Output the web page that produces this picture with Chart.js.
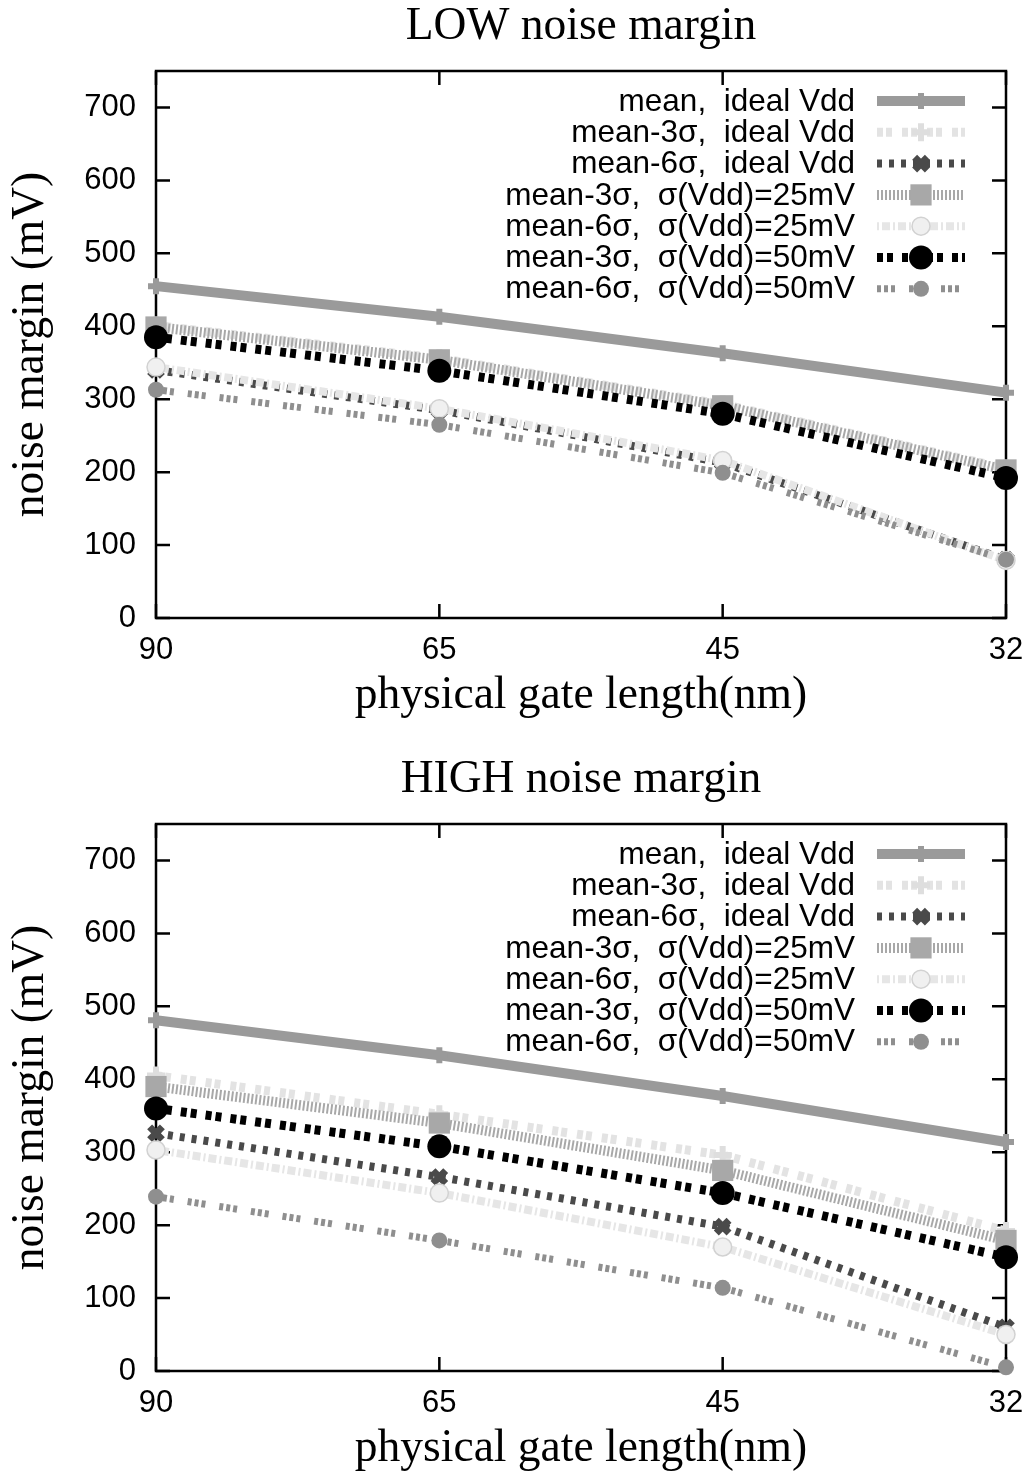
<!DOCTYPE html>
<html><head><meta charset="utf-8">
<script src="https://cdn.jsdelivr.net/npm/chart.js@4/dist/chart.umd.min.js"></script>
<style>
html,body{margin:0;padding:0;background:#fff;}
.wrap{position:relative;width:1025px;height:738px;}
canvas{display:block;}
</style></head><body>
<div class="wrap"><canvas id="c1" width="1025" height="738"></canvas></div>
<div class="wrap"><canvas id="c2" width="1025" height="738"></canvas></div>
<script>
// ---- data ----
const categories = ['90', '65', '45', '32'];
const seriesLabels = [
  'mean,  ideal Vdd',
  'mean-3σ,  ideal Vdd',
  'mean-6σ,  ideal Vdd',
  'mean-3σ,  σ(Vdd)=25mV',
  'mean-6σ,  σ(Vdd)=25mV',
  'mean-3σ,  σ(Vdd)=50mV',
  'mean-6σ,  σ(Vdd)=50mV'
];
const yTickValues = [0, 100, 200, 300, 400, 500, 600, 700];

// LOW noise margin (mV)
const lowMeanIdeal = [455, 413, 363, 309];
const low3sIdeal   = [401, 356, 293, 205];
const low6sIdeal   = [340, 285, 213, 80];
const low3s25      = [399, 354, 291, 203];
const low6s25      = [344, 287, 216, 79];
const low3s50      = [385, 339, 280, 192];
const low6s50      = [313, 265, 199, 80];

// HIGH noise margin (mV)
const highMeanIdeal = [481, 433, 377, 314];
const high3sIdeal   = [405, 352, 296, 192];
const high6sIdeal   = [326, 266, 198, 60];
const high3s25      = [390, 340, 275, 179];
const high6s25      = [303, 244, 170, 50];
const high3s50      = [360, 308, 244, 156];
const high6s50      = [239, 179, 114, 5];

// ---- styles ----
const styles = [
  {borderColor:'#9a9a9a', borderWidth:10, borderDash:[], pointStyle:'cross', pointRadius:8, pointBorderWidth:6, pointBackgroundColor:'#9a9a9a', pointBorderColor:'#9a9a9a'},
  {borderColor:'#e3e3e3', borderWidth:9, borderDash:[6,3,6,10], pointStyle:'cross', pointRadius:9, pointBorderWidth:6, pointBackgroundColor:'#dedede', pointBorderColor:'#dedede'},
  {borderColor:'#4a4a4a', borderWidth:8, borderDash:[5,7], pointStyle:'crossRot', pointRadius:9, pointBorderWidth:7, pointBackgroundColor:'#4a4a4a', pointBorderColor:'#4a4a4a'},
  {borderColor:'#a8a8a8', borderWidth:10, borderDash:[2,2], pointStyle:'rect', pointRadius:15, pointBorderWidth:0, pointBackgroundColor:'#a8a8a8', pointBorderColor:'#a8a8a8'},
  {borderColor:'#e6e6e6', borderWidth:8, borderDash:[2,3,8,3], pointStyle:'circle', pointRadius:9, pointBorderWidth:1.5, pointBackgroundColor:'#f0f0f0', pointBorderColor:'#d2d2d2'},
  {borderColor:'#000000', borderWidth:9, borderDash:[6,4,6,9], pointStyle:'circle', pointRadius:12, pointBorderWidth:0, pointBackgroundColor:'#000000', pointBorderColor:'#000000'},
  {borderColor:'#8f8f8f', borderWidth:7, borderDash:[4,3,4,3,4,14], pointStyle:'circle', pointRadius:8, pointBorderWidth:0, pointBackgroundColor:'#8f8f8f', pointBorderColor:'#8f8f8f'}
];

const SANS = '"Liberation Sans", Arial, sans-serif';
const SERIF = '"Liberation Serif", "Times New Roman", serif';
const SERIF_SIZE = 45.5;

const framePlugin = {
  id: 'frame',
  beforeDatasetsDraw(chart) {
    const {ctx, chartArea: a, scales} = chart;
    ctx.save();
    ctx.strokeStyle = '#000';
    ctx.lineWidth = 2.5;
    ctx.strokeRect(a.left, a.top, a.right - a.left, a.bottom - a.top);
    const tl = 14;
    ctx.beginPath();
    scales.y.ticks.forEach(t => {
      const y = scales.y.getPixelForValue(t.value);
      ctx.moveTo(a.left, y); ctx.lineTo(a.left + tl, y);
      ctx.moveTo(a.right, y); ctx.lineTo(a.right - tl, y);
    });
    scales.x.ticks.forEach((t, i) => {
      const x = scales.x.getPixelForTick(i);
      ctx.moveTo(x, a.bottom); ctx.lineTo(x, a.bottom - tl);
      ctx.moveTo(x, a.top); ctx.lineTo(x, a.top + tl);
    });
    ctx.stroke();
    ctx.restore();
  }
};

const legendPlugin = {
  id: 'insideLegend',
  afterDatasetsDraw(chart) {
    const {ctx, chartArea: a} = chart;
    ctx.save();
    chart.data.datasets.forEach((ds, i) => {
      const y = a.top + 30 + i * 31.3;
      ctx.font = '31.5px ' + SANS;
      ctx.fillStyle = '#000';
      ctx.textAlign = 'right';
      ctx.textBaseline = 'middle';
      ctx.fillText(ds.label, a.right - 151, y + 1);
      const x0 = a.right - 129, x1 = a.right - 41, xm = (x0 + x1) / 2;
      ctx.beginPath();
      ctx.strokeStyle = ds.borderColor;
      ctx.lineWidth = ds.borderWidth;
      ctx.setLineDash(ds.borderDash || []);
      ctx.moveTo(x0, y); ctx.lineTo(x1, y);
      ctx.stroke();
      ctx.setLineDash([]);
      ctx.fillStyle = ds.pointBackgroundColor;
      ctx.strokeStyle = ds.pointBorderColor;
      ctx.lineWidth = ds.pointBorderWidth;
      if (Chart.helpers && Chart.helpers.drawPoint) {
        Chart.helpers.drawPoint(ctx, {pointStyle: ds.pointStyle, radius: ds.pointRadius, rotation: 0, borderWidth: ds.pointBorderWidth}, xm, y);
      }
    });
    ctx.restore();
  }
};

function makeChart(id, titleText, seriesData, pad) {
  const n = seriesData.length;
  const datasets = seriesData.map((d, i) => Object.assign({
    label: seriesLabels[i],
    data: d,
    fill: false,
    tension: 0,
    clip: false,
    borderCapStyle: 'butt',
    order: n - 1 - i
  }, styles[i]));
  return new Chart(document.getElementById(id), {
    type: 'line',
    data: {labels: categories, datasets},
    options: {
      responsive: false,
      animation: false,
      layout: {padding: pad},
      plugins: {
        legend: {display: false},
        tooltip: {enabled: false},
        title: {
          display: true, text: titleText, fullSize: false, color: '#000',
          font: {family: SERIF, size: SERIF_SIZE, weight: 'normal'},
          padding: {top: 0, bottom: 71 - SERIF_SIZE * 1.2}
        }
      },
      scales: {
        x: {
          type: 'category', offset: false,
          grid: {display: false}, border: {display: false},
          ticks: {color: '#000', font: {family: SANS, size: 31}, padding: 6, maxRotation: 0, autoSkip: false},
          title: {display: true, text: 'physical gate length(nm)', color: '#000', font: {family: SERIF, size: SERIF_SIZE, weight: 'normal'}, padding: {top: 0, bottom: 0}},
          afterFit(s) { s.height = 105; s.paddingLeft = 0; s.paddingRight = 0; }
        },
        y: {
          min: 0, max: 750,
          grid: {display: false}, border: {display: false},
          ticks: {stepSize: 100, color: '#000', font: {family: SANS, size: 31}, padding: 12},
          afterBuildTicks(s) { s.ticks = yTickValues.map(v => ({value: v})); },
          title: {display: true, text: 'noise margin (mV)', color: '#000', font: {family: SERIF, size: SERIF_SIZE, weight: 'normal'}, padding: {top: 4, bottom: 0}},
          afterFit(s) { s.width = 156; s.paddingTop = 0; s.paddingBottom = 0; }
        }
      }
    },
    plugins: [framePlugin, legendPlugin]
  });
}

makeChart('c1', 'LOW noise margin',
  [lowMeanIdeal, low3sIdeal, low6sIdeal, low3s25, low6s25, low3s50, low6s50],
  {top: 0, left: 0, right: 19, bottom: 15});
makeChart('c2', 'HIGH noise margin',
  [highMeanIdeal, high3sIdeal, high6sIdeal, high3s25, high6s25, high3s50, high6s50],
  {top: 15, left: 0, right: 19, bottom: 0});
</script>
</body></html>
